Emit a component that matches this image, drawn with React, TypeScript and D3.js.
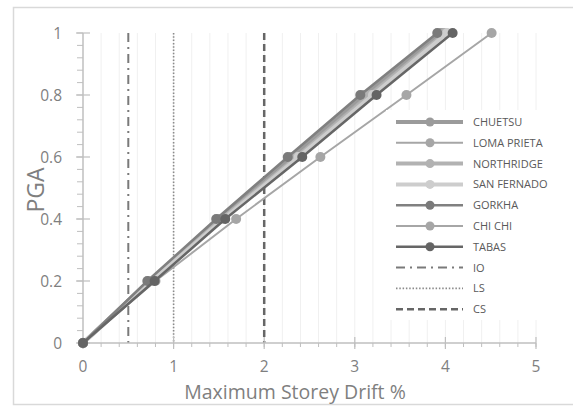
import React from "react";
import * as d3 from "d3";

// PGA levels (y) and maximum storey drift % (x) for each record
const pgaLevels = [0, 0.2, 0.4, 0.6, 0.8, 1.0];
const chuetsu = [0, 0.73, 1.5, 2.3, 3.1, 3.95];
const lomaPrieta = [0, 0.74, 1.52, 2.34, 3.14, 3.98];
const northridge = [0, 0.75, 1.53, 2.36, 3.17, 4.0];
const sanFernado = [0, 0.76, 1.55, 2.38, 3.2, 4.02];
const gorkha = [0, 0.71, 1.47, 2.26, 3.06, 3.91];
const chiChi = [0, 0.8, 1.69, 2.62, 3.57, 4.51];
const tabas = [0, 0.79, 1.57, 2.42, 3.24, 4.08];

// Performance limit lines (drift %)
const limitNames = ["IO", "LS", "CS"];
const limitDrifts = [0.5, 1, 2];

const xTicks = [0, 1, 2, 3, 4, 5];
const yTicks = [0, 0.2, 0.4, 0.6, 0.8, 1];

const W = 573;
const H = 406;
const FONT = "'Open Sans', 'DejaVu Sans', sans-serif";

type Series = { name: string; values: number[]; stroke: string; width: number; marker: string };

const series: Series[] = [
  { name: "CHUETSU", values: chuetsu, stroke: "#9b9b9b", width: 4, marker: "#9b9b9b" },
  { name: "LOMA PRIETA", values: lomaPrieta, stroke: "#a6a6a6", width: 2, marker: "#a6a6a6" },
  { name: "NORTHRIDGE", values: northridge, stroke: "#b2b2b2", width: 4, marker: "#b2b2b2" },
  { name: "SAN FERNADO", values: sanFernado, stroke: "#cdcdcd", width: 4, marker: "#cdcdcd" },
  { name: "GORKHA", values: gorkha, stroke: "#808080", width: 2.5, marker: "#7a7a7a" },
  { name: "CHI CHI", values: chiChi, stroke: "#a6a6a6", width: 2, marker: "#a6a6a6" },
  { name: "TABAS", values: tabas, stroke: "#666666", width: 2.5, marker: "#646464" },
];

const limitStyles = [
  { dash: "9 5 2 5", width: 2, stroke: "#7a7a7a" },
  { dash: "1.5 1.8", width: 1.6, stroke: "#8a8a8a" },
  { dash: "7 4", width: 2.5, stroke: "#666666" },
];

export default function App() {
  const x = d3.scaleLinear().domain([0, 5]).range([83, 536]);
  const y = d3.scaleLinear().domain([0, 1]).range([343, 33]);

  const line = d3
    .line<[number, number]>()
    .x((d) => x(d[0]))
    .y((d) => y(d[1]));

  const minorX = d3.range(0, 5.001, 0.2);
  const minorY = d3.range(0, 1.001, 0.04);

  const legendX = 386;
  const legendTop = 110;
  const rowY = (i: number) => 122 + i * 20.8;

  return (
    <svg
      width={W}
      height={H}
      style={{ position: "absolute", left: 0, top: 0, background: "#fff" }}
      fontFamily={FONT}
    >
      <rect x={13.5} y={7.5} width={W} height={397} fill="#fff" stroke="#d9d9d9" strokeWidth={1.5} />

      {/* vertical gridlines */}
      {minorX.slice(1).map((v, i) => (
        <line key={"g" + i} x1={x(v)} x2={x(v)} y1={y(1)} y2={y(0)} stroke="#f0f0f0" strokeWidth={1} />
      ))}

      {/* limit lines */}
      {limitDrifts.map((v, i) => (
        <line
          key={"l" + i}
          x1={x(v)}
          x2={x(v)}
          y1={y(1)}
          y2={y(0)}
          stroke={limitStyles[i].stroke}
          strokeWidth={limitStyles[i].width}
          strokeDasharray={limitStyles[i].dash}
        />
      ))}

      {/* axes */}
      <line x1={x(0)} x2={x(5)} y1={y(0)} y2={y(0)} stroke="#bfbfbf" strokeWidth={1.5} />
      <line x1={x(0)} x2={x(0)} y1={y(1)} y2={y(0)} stroke="#bfbfbf" strokeWidth={1.5} />
      {minorX.map((v, i) => (
        <line key={"mx" + i} x1={x(v)} x2={x(v)} y1={y(0)} y2={y(0) + 4} stroke="#bfbfbf" strokeWidth={1} />
      ))}
      {xTicks.map((v) => (
        <line key={"tx" + v} x1={x(v)} x2={x(v)} y1={y(0) - 6} y2={y(0) + 6} stroke="#bfbfbf" strokeWidth={1.2} />
      ))}
      {minorY.map((v, i) => (
        <line key={"my" + i} x1={x(0) - 6} x2={x(0)} y1={y(v)} y2={y(v)} stroke="#bfbfbf" strokeWidth={1} />
      ))}
      {yTicks.map((v) => (
        <line key={"ty" + v} x1={x(0) - 7} x2={x(0) + 7} y1={y(v)} y2={y(v)} stroke="#bfbfbf" strokeWidth={1.2} />
      ))}

      {xTicks.map((v) => (
        <text key={"xl" + v} x={x(v)} y={372} textAnchor="middle" fontSize={15.5} fill="#7f7f7f">
          {v}
        </text>
      ))}
      {yTicks.map((v) => (
        <text key={"yl" + v} x={62} y={y(v) + 5.5} textAnchor="end" fontSize={15.5} fill="#7f7f7f">
          {v === 0 || v === 1 ? String(v) : v.toFixed(1)}
        </text>
      ))}

      <text x={295} y={399} textAnchor="middle" fontSize={19.5} fill="#7f7f7f">
        Maximum Storey Drift %
      </text>
      <text transform={`translate(44,190) rotate(-90)`} textAnchor="middle" fontSize={23} fill="#7f7f7f">
        PGA
      </text>

      {/* series */}
      {series.map((s) => {
        const pts = s.values.map((v, i) => [v, pgaLevels[i]] as [number, number]);
        return (
          <g key={s.name}>
            <path d={line(pts) || ""} fill="none" stroke={s.stroke} strokeWidth={s.width} strokeLinejoin="round" />
            {pts.map((p, i) => (
              <circle key={i} cx={x(p[0])} cy={y(p[1])} r={5} fill={s.marker} />
            ))}
          </g>
        );
      })}

      {/* legend */}
      <rect x={legendX} y={legendTop} width={172} height={210} fill="#fff" />
      {series.map((s, i) => (
        <g key={"lg" + s.name}>
          <line x1={396} x2={463} y1={rowY(i)} y2={rowY(i)} stroke={s.stroke} strokeWidth={s.width} />
          <circle cx={430} cy={rowY(i)} r={4.5} fill={s.marker} />
          <text x={473} y={rowY(i) + 4} fontSize={11} fill="#595959">
            {s.name}
          </text>
        </g>
      ))}
      {limitNames.map((n, j) => {
        const i = j + series.length;
        return (
          <g key={"ll" + n}>
            <line
              x1={396}
              x2={463}
              y1={rowY(i)}
              y2={rowY(i)}
              stroke={limitStyles[j].stroke}
              strokeWidth={limitStyles[j].width}
              strokeDasharray={limitStyles[j].dash}
            />
            <text x={473} y={rowY(i) + 4} fontSize={11} fill="#595959">
              {n}
            </text>
          </g>
        );
      })}
    </svg>
  );
}
